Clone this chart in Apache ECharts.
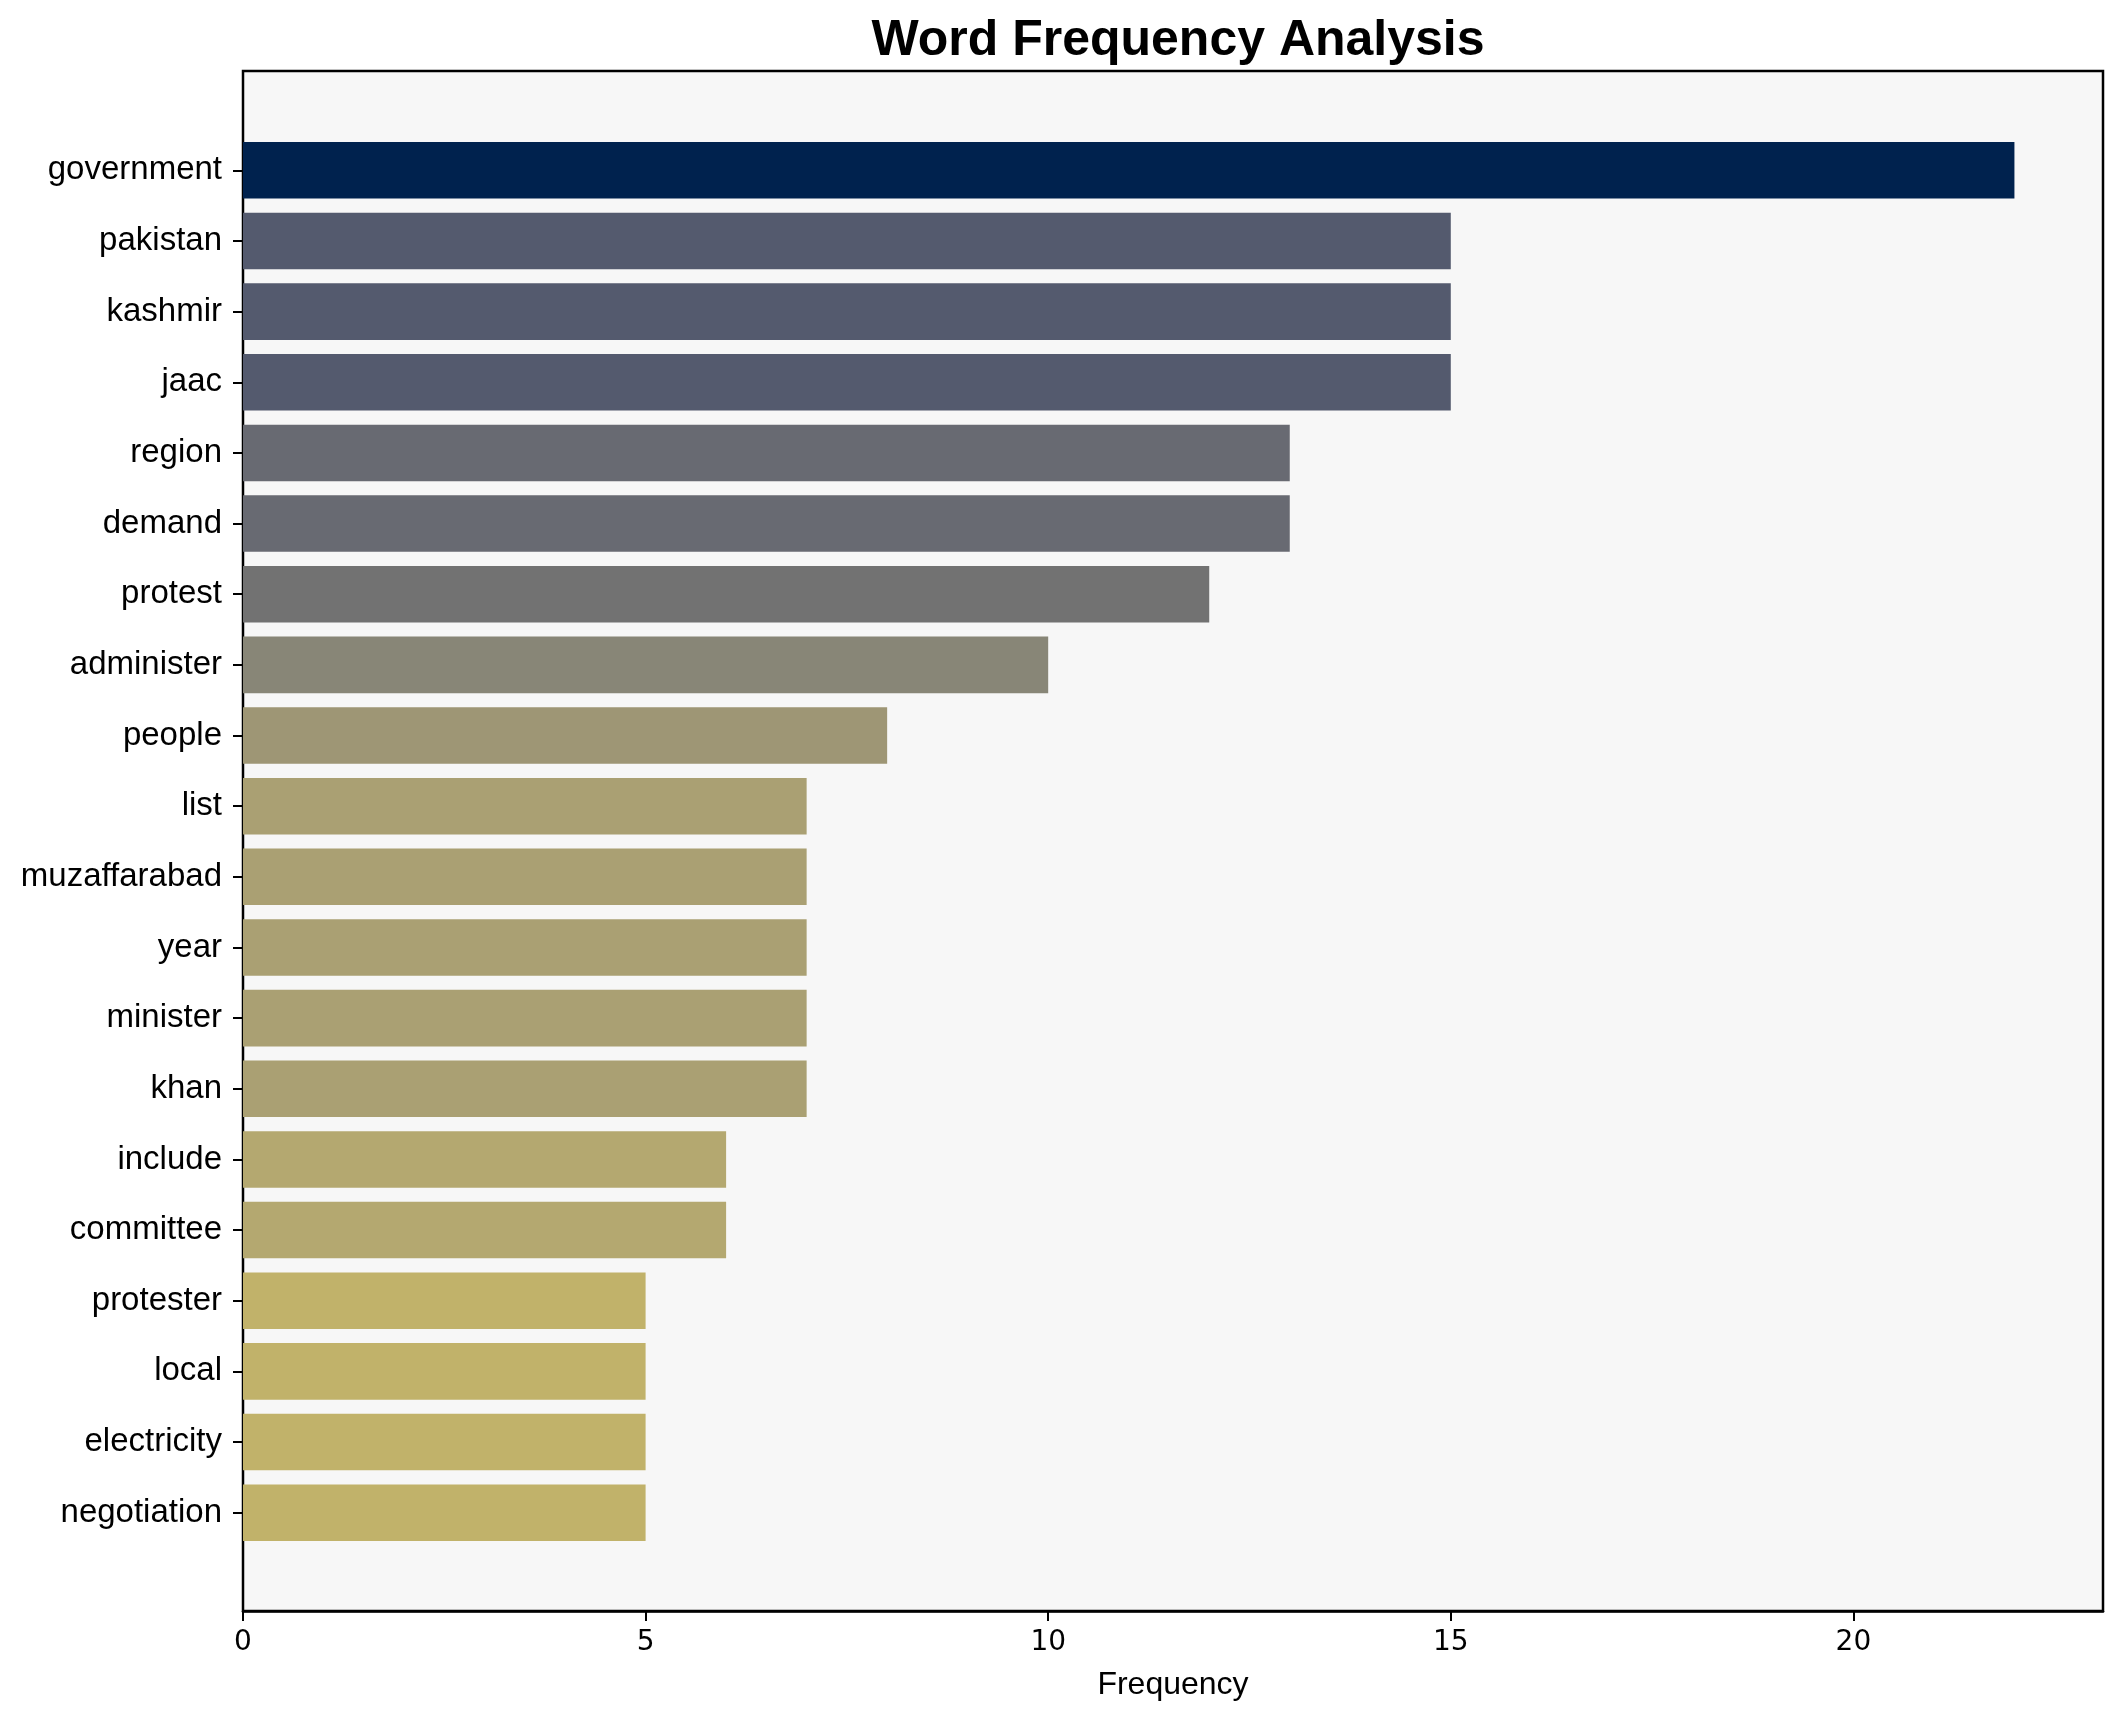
<!DOCTYPE html>
<html>
<head>
<meta charset="utf-8">
<script src="https://cdn.jsdelivr.net/npm/echarts@6/dist/echarts.min.js"></script>
<style>
html,body{margin:0;padding:0;background:#fff;}
#chart{width:2122px;height:1722px;}
</style>
</head>
<body>
<div id="chart"></div>
<script>
// ---- data ----
const words = ["government","pakistan","kashmir","jaac","region","demand","protest","administer","people","list","muzaffarabad","year","minister","khan","include","committee","protester","local","electricity","negotiation"];
const frequencies = [22,15,15,15,13,13,12,10,8,7,7,7,7,7,6,6,5,5,5,5];
const xTicks = [0,5,10,15,20];
const titleText = "Word Frequency Analysis";
const xAxisTitle = "Frequency";

// ---- style: colour ramp (value -> colour) ----
const colorStops = [[5,"#C1B26A"],[6,"#B4A870"],[7,"#AAA073"],[8,"#9E9675"],[10,"#888677"],[12,"#727272"],[13,"#686A72"],[15,"#545A6E"],[22,"#00224E"]];
function hex2rgb(h){return [parseInt(h.slice(1,3),16),parseInt(h.slice(3,5),16),parseInt(h.slice(5,7),16)];}
function colorFor(v){
  for(let i=0;i<colorStops.length;i++){ if(colorStops[i][0]===v) return colorStops[i][1]; }
  for(let i=0;i<colorStops.length-1;i++){
    const a=colorStops[i], b=colorStops[i+1];
    if(v>a[0] && v<b[0]){
      const t=(v-a[0])/(b[0]-a[0]); const ca=hex2rgb(a[1]), cb=hex2rgb(b[1]);
      return 'rgb('+ca.map((c,k)=>Math.round(c+(cb[k]-c)*t)).join(',')+')';
    }
  }
  return colorStops[colorStops.length-1][1];
}

const xMax = Math.max(...frequencies)*1.05;

const chart = echarts.init(document.getElementById('chart'), null, {renderer:'canvas'});
chart.setOption({
  animation:false,
  backgroundColor:'#ffffff',
  title:{
    text:titleText,
    left:1173, top:11, textAlign:'center',
    textStyle:{fontFamily:'Liberation Sans',fontWeight:'bold',fontSize:50,color:'#000'}
  },
  grid:[
    {left:243,right:19,top:71,bottom:111,show:true,backgroundColor:'#F7F7F7',borderColor:'#000',borderWidth:2.5,containLabel:false},
    {left:243,right:19,top:135,bottom:174,show:false,containLabel:false}
  ],
  xAxis:[
    {type:'value',gridIndex:0,min:0,max:xMax,interval:5,
     axisLine:{show:true,lineStyle:{color:'#000',width:2.5}},
     axisTick:{show:true,length:10,lineStyle:{color:'#000',width:2},customValues:xTicks},
     axisLabel:{show:true,margin:18,fontFamily:'DejaVu Sans',fontSize:28,color:'#000',customValues:xTicks},
     splitLine:{show:false},
     name:xAxisTitle,nameLocation:'middle',nameGap:58,
     nameTextStyle:{fontFamily:'Liberation Sans',fontSize:32,color:'#000'}},
    {type:'value',gridIndex:1,min:0,max:xMax,show:false,splitLine:{show:false}}
  ],
  yAxis:[
    {type:'value',gridIndex:0,show:false,splitLine:{show:false}},
    {type:'category',gridIndex:1,data:words,inverse:true,
     axisLine:{show:false},
     axisTick:{show:true,alignWithLabel:true,length:10,lineStyle:{color:'#000',width:2}},
     axisLabel:{margin:21,fontFamily:'Liberation Sans',fontSize:33,color:'#000',padding:[0,0,6,0]},
     splitLine:{show:false}}
  ],
  series:[{
    type:'bar',xAxisIndex:1,yAxisIndex:1,
    data:frequencies,
    barWidth:'80%',
    itemStyle:{color:function(p){return colorFor(p.value);}}
  }]
});
</script>
</body>
</html>
